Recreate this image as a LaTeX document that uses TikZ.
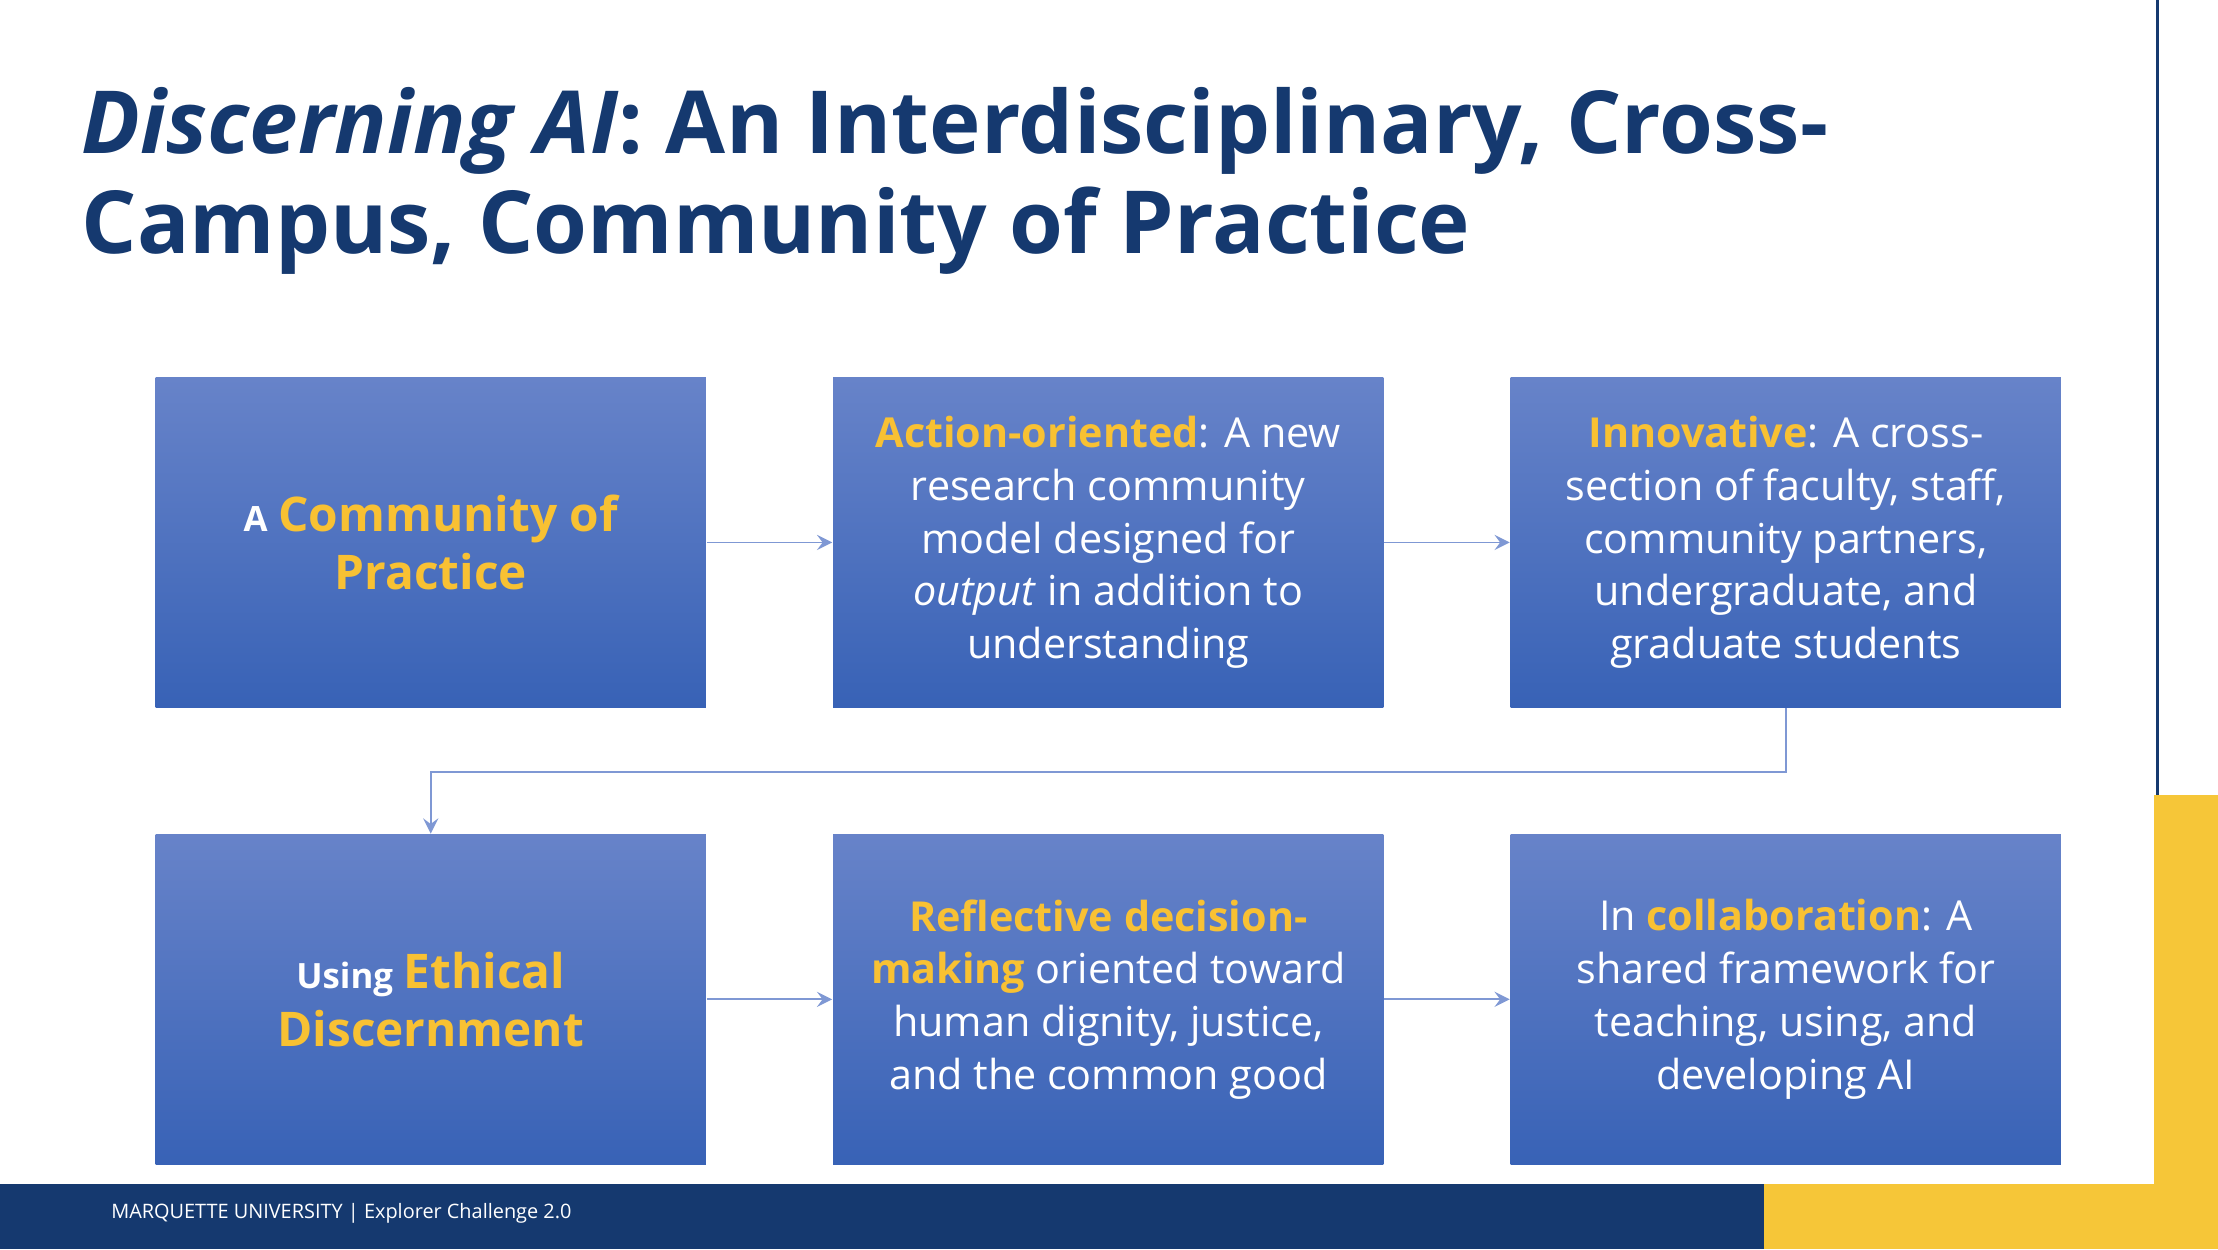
\documentclass[tikz,border=0pt]{standalone}
\usepackage{fontspec}
\setmainfont{Open Sans}
\begin{document}
\begin{tikzpicture}[x=0.01cm,y=-0.01cm,
  box/.style={draw=none,top color=boxtop,bottom color=boxbot,minimum width=389*0.01cm,minimum height=233*0.01cm,inner sep=0pt,text=white,align=center,font=\fontsize{8.3}{10.6}\selectfont},
  arr/.style={draw=arrc,line width=0.35pt,->,>=stealth}]
\definecolor{navy}{HTML}{15396F}
\definecolor{gold}{HTML}{F6C638}
\definecolor{hl}{HTML}{F8C133}
\definecolor{boxtop}{HTML}{6783C9}
\definecolor{boxbot}{HTML}{3862B6}
\definecolor{arrc}{HTML}{7F98D4}
\useasboundingbox (0,0) rectangle (1568,883);
\fill[white] (0,0) rectangle (1568,883);
\fill[gold] (1523,562) rectangle (1568,883);
\fill[gold] (1247,837) rectangle (1568,883);
\fill[navy] (0,837) rectangle (1247,883);
\draw[navy,line width=0.6pt] (1525,0) -- (1525,562);
\node[anchor=north west,text=navy,align=left,font=\fontsize{17.5}{20.2}\selectfont\bfseries,inner sep=0pt] (title) at (57,61)
 {\textit{Discerning AI}: An Interdisciplinary, Cross-\\Campus, Community of Practice};
\node[anchor=west,text=white,font=\fontsize{4}{5}\selectfont,inner sep=0pt] (foot) at (78,858) {MARQUETTE UNIVERSITY | Explorer Challenge 2.0};
\node[box] (b1) at (304.5,383.5) {\textbf{\fontsize{7}{9}\selectfont A} \textbf{\fontsize{9.6}{11.8}\selectfont\color{hl}Community of}\\[1pt]\textbf{\fontsize{9.6}{11.8}\selectfont\color{hl}Practice}};
\node[box] (b2) at (783.5,383.5) {\textbf{\color{hl}Action-oriented}: A new\\research community\\model designed for\\\textit{output} in addition to\\understanding};
\node[box] (b3) at (1262.5,383.5) {\textbf{\color{hl}Innovative}: A cross-\\section of faculty, staff,\\community partners,\\undergraduate, and\\graduate students};
\node[box] (b4) at (304.5,706.5) {\textbf{\fontsize{7}{9}\selectfont Using} \textbf{\fontsize{9.6}{11.8}\selectfont\color{hl}Ethical}\\[1pt]\textbf{\fontsize{9.6}{11.8}\selectfont\color{hl}Discernment}};
\node[box] (b5) at (783.5,706.5) {\textbf{\color{hl}Reflective decision-}\\\textbf{\color{hl}making} oriented toward\\human dignity, justice,\\and the common good};
\node[box] (b6) at (1262.5,706.5) {In \textbf{\color{hl}collaboration}: A\\shared framework for\\teaching, using, and\\developing AI};
\draw[arr] (b1) -- (b2);
\draw[arr] (b2) -- (b3);
\draw[arr] (b4) -- (b5);
\draw[arr] (b5) -- (b6);
\coordinate (m1) at (1262.5,546);
\coordinate (m2) at (304.5,546);
\draw[arr] (b3.south) -- (m1) -- (m2) -- (b4.north);
\end{tikzpicture}
\end{document}
